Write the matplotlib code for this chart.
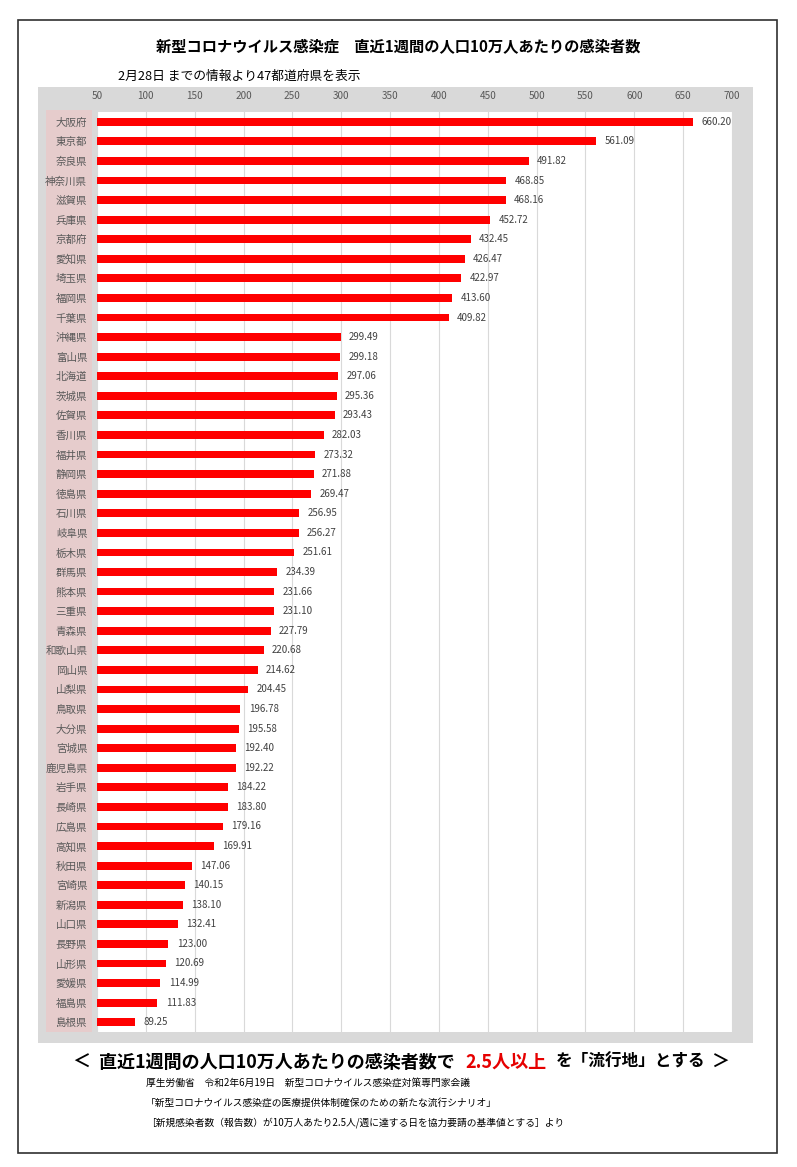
import matplotlib
matplotlib.use("Agg")
import matplotlib.pyplot as plt
from matplotlib.patches import Rectangle

plt.rcParams['font.family'] = ['Noto Sans CJK JP', 'DejaVu Sans']

prefectures = ["大阪府", "東京都", "奈良県", "神奈川県", "滋賀県", "兵庫県", "京都府", "愛知県",
               "埼玉県", "福岡県", "千葉県", "沖縄県", "富山県", "北海道", "茨城県", "佐賀県",
               "香川県", "福井県", "静岡県", "徳島県", "石川県", "岐阜県", "栃木県", "群馬県",
               "熊本県", "三重県", "青森県", "和歌山県", "岡山県", "山梨県", "鳥取県", "大分県",
               "宮城県", "鹿児島県", "岩手県", "長崎県", "広島県", "高知県", "秋田県", "宮崎県",
               "新潟県", "山口県", "長野県", "山形県", "愛媛県", "福島県", "島根県"]
values = [660.20, 561.09, 491.82, 468.85, 468.16, 452.72, 432.45, 426.47,
          422.97, 413.60, 409.82, 299.49, 299.18, 297.06, 295.36, 293.43,
          282.03, 273.32, 271.88, 269.47, 256.95, 256.27, 251.61, 234.39,
          231.66, 231.10, 227.79, 220.68, 214.62, 204.45, 196.78, 195.58,
          192.40, 192.22, 184.22, 183.80, 179.16, 169.91, 147.06, 140.15,
          138.10, 132.41, 123.00, 120.69, 114.99, 111.83, 89.25]
x_ticks = list(range(50, 701, 50))

W, H = 797, 1167
fig = plt.figure(figsize=(W / 100, H / 100), dpi=100)
fig.patch.set_facecolor('white')

def fx(x):
    return x / W

def fy(y):
    return 1 - y / H

def rect(x0, y0, x1, y1, **kw):
    fig.patches.append(Rectangle((fx(x0), fy(y1)), fx(x1) - fx(x0), fy(y0) - fy(y1),
                                 transform=fig.transFigure, zorder=-10, **kw))

# outer border
rect(18, 20, 777, 1153, facecolor='none', edgecolor='#303030', linewidth=1.2)
# grey panel
rect(38, 87, 753, 1043, facecolor='#d9d9d9', edgecolor='none')
# pink label column
rect(46, 110, 92, 1032, facecolor='#e6cccc', edgecolor='none')

ax = fig.add_axes([fx(97), fy(1032), fx(732) - fx(97), fy(112) - fy(1032)])
ax.set_zorder(1)
ax.set_facecolor('white')
ypos = list(range(len(prefectures)))
ax.barh(ypos, values, height=0.4, color='#ff0000', zorder=3)
ax.set_xlim(50, 700)
ax.set_ylim(len(prefectures) - 0.5, -0.5)
ax.set_xticks(x_ticks)
ax.set_xticklabels([str(t) for t in x_ticks], fontsize=7.2, color='#595959')
ax.xaxis.tick_top()
ax.tick_params(axis='x', length=0, pad=8)
ax.set_yticks(ypos)
ax.set_yticklabels(prefectures, fontsize=7.6, color='#595959')
ax.tick_params(axis='y', length=0, pad=7)
ax.grid(axis='x', color='#d9d9d9', linewidth=0.8, zorder=0)
ax.set_axisbelow(True)
for s in ax.spines.values():
    s.set_visible(False)
for y, v in zip(ypos, values):
    ax.annotate(f"{v:.2f}", xy=(v, y), xytext=(6, 0), textcoords='offset points',
                va='center', ha='left', fontsize=7, color='#404040')

# titles
fig.text(fx(398), fy(47), "新型コロナウイルス感染症　直近1週間の人口10万人あたりの感染者数",
         ha='center', va='center', fontsize=11, fontweight='bold', color='black')
fig.text(fx(118), fy(76), "2月28日 までの情報より47都道府県を表示",
         ha='left', va='center', fontsize=9.2, color='black')

# bottom statement
by = fy(1062)
fig.text(fx(72), by, "＜", ha='left', va='center', fontsize=13, fontweight='bold', color='black')
fig.text(fx(99), by, "直近1週間の人口10万人あたりの感染者数で", ha='left', va='center',
         fontsize=13, fontweight='bold', color='black')
fig.text(fx(465), by, "2.5人以上", ha='left', va='center', fontsize=13, fontweight='bold',
         color='#e60000')
fig.text(fx(556), by, "を「流行地」とする", ha='left', va='center', fontsize=12,
         fontweight='bold', color='black')
fig.text(fx(712), by, "＞", ha='left', va='center', fontsize=13, fontweight='bold', color='black')

notes = ["厚生労働省　令和2年6月19日　新型コロナウイルス感染症対策専門家会議",
         "「新型コロナウイルス感染症の医療提供体制確保のための新たな流行シナリオ」",
         "［新規感染者数（報告数）が10万人あたり2.5人/週に達する日を協力要請の基準値とする］より"]
for i, n in enumerate(notes):
    fig.text(fx(146), fy(1083 + 20 * i), n, ha='left', va='center', fontsize=7.0, color='black')

fig.savefig("out.png", dpi=100)
